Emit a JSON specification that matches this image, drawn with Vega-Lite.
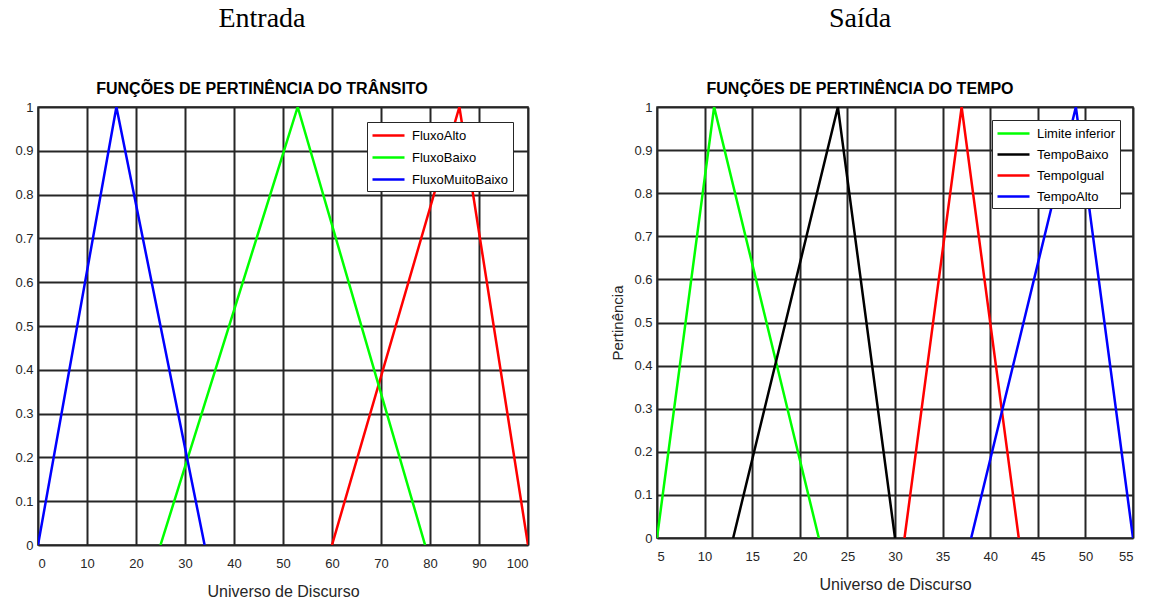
{
  "$schema": "https://vega.github.io/schema/vega-lite/v6.json",
  "background": "white",
  "padding": {"left": 14, "top": 4, "right": 5, "bottom": 5},
  "config": {
    "font": "Liberation Sans",
    "view": {"stroke": "#262626", "strokeWidth": 1.5},
    "axis": {"grid": true, "gridColor": "#262626", "gridWidth": 2, "gridOpacity": 1, "ticks": false, "domain": false,
      "labelFont": "Liberation Sans", "labelFontSize": 13, "labelColor": "#262626", "labelPadding": 5,
      "titleFont": "Liberation Sans", "titleFontSize": 16, "titleFontWeight": "normal", "titleColor": "#262626"},
    "axisX": {"labelPadding": 12, "titlePadding": 13},
    "title": {"font": "Liberation Serif", "fontSize": 28, "fontWeight": "normal", "color": "black",
      "subtitleFont": "Liberation Sans", "subtitleFontSize": 16, "subtitleFontWeight": "bold", "subtitleColor": "black",
      "subtitlePadding": 48, "anchor": "middle", "frame": "group", "offset": 0},
    "legend": {"fillColor": "white", "strokeColor": "#262626", "padding": 4, "labelFont": "Liberation Sans", "labelFontSize": 13,
      "labelColor": "black", "symbolType": "M-2,0H2", "symbolSize": 256, "symbolStrokeWidth": 2.5, "rowPadding": 5,
      "symbolOffset": 8, "labelOffset": 14}
  },
  "spacing": 81,
  "resolve": {"scale": {"color": "independent"}},
  "hconcat": [
    {
      "title": {"text": "Entrada", "subtitle": "FUNÇÕES DE PERTINÊNCIA DO TRÂNSITO", "dx": -21},
      "width": 490,
      "height": 438,
      "data": {"values": [
        {"s": "FluxoAlto", "x": 60, "y": 0},
        {"s": "FluxoAlto", "x": 86, "y": 1},
        {"s": "FluxoAlto", "x": 100, "y": 0},
        {"s": "FluxoBaixo", "x": 25, "y": 0},
        {"s": "FluxoBaixo", "x": 53, "y": 1},
        {"s": "FluxoBaixo", "x": 79, "y": 0},
        {"s": "FluxoMuitoBaixo", "x": 0, "y": 0},
        {"s": "FluxoMuitoBaixo", "x": 16, "y": 1},
        {"s": "FluxoMuitoBaixo", "x": 34, "y": 0}
      ]},
      "mark": {"type": "line", "strokeWidth": 2.5, "clip": true},
      "encoding": {
        "x": {"field": "x", "type": "quantitative", "scale": {"domain": [0, 100], "nice": false},
          "axis": {"values": [0, 10, 20, 30, 40, 50, 60, 70, 80, 90, 100], "title": "Universo de Discurso"}},
        "y": {"field": "y", "type": "quantitative", "scale": {"domain": [0, 1], "nice": false},
          "axis": {"values": [0, 0.1, 0.2, 0.3, 0.4, 0.5, 0.6, 0.7, 0.8, 0.9, 1], "format": "~g", "title": null}},
        "color": {"field": "s", "type": "nominal",
          "scale": {"domain": ["FluxoAlto", "FluxoBaixo", "FluxoMuitoBaixo"], "range": ["#ff0000", "#00ff00", "#0000ff"]},
          "legend": {"title": null, "orient": "top-right", "offset": 15, "rowPadding": 5}}
      }
    },
    {
      "title": {"text": "Saída", "subtitle": "FUNÇÕES DE PERTINÊNCIA DO TEMPO", "dx": -35},
      "width": 476,
      "height": 431,
      "data": {"values": [
        {"s": "Limite inferior", "x": 5, "y": 0},
        {"s": "Limite inferior", "x": 11, "y": 1},
        {"s": "Limite inferior", "x": 22, "y": 0},
        {"s": "TempoBaixo", "x": 13, "y": 0},
        {"s": "TempoBaixo", "x": 24, "y": 1},
        {"s": "TempoBaixo", "x": 30, "y": 0},
        {"s": "TempoIgual", "x": 31, "y": 0},
        {"s": "TempoIgual", "x": 37, "y": 1},
        {"s": "TempoIgual", "x": 43, "y": 0},
        {"s": "TempoAlto", "x": 38, "y": 0},
        {"s": "TempoAlto", "x": 49, "y": 1},
        {"s": "TempoAlto", "x": 55, "y": 0}
      ]},
      "mark": {"type": "line", "strokeWidth": 2.5, "clip": true},
      "encoding": {
        "x": {"field": "x", "type": "quantitative", "scale": {"domain": [5, 55], "nice": false, "zero": false},
          "axis": {"values": [5, 10, 15, 20, 25, 30, 35, 40, 45, 50, 55], "title": "Universo de Discurso"}},
        "y": {"field": "y", "type": "quantitative", "scale": {"domain": [0, 1], "nice": false},
          "axis": {"values": [0, 0.1, 0.2, 0.3, 0.4, 0.5, 0.6, 0.7, 0.8, 0.9, 1], "format": "~g", "title": "Pertinência", "titlePadding": 8, "titleFontSize": 15}},
        "color": {"field": "s", "type": "nominal",
          "scale": {"domain": ["Limite inferior", "TempoBaixo", "TempoIgual", "TempoAlto"], "range": ["#00ff00", "#000000", "#ff0000", "#0000ff"]},
          "legend": {"title": null, "orient": "top-right", "offset": 13, "rowPadding": 4}}
      }
    }
  ]
}
